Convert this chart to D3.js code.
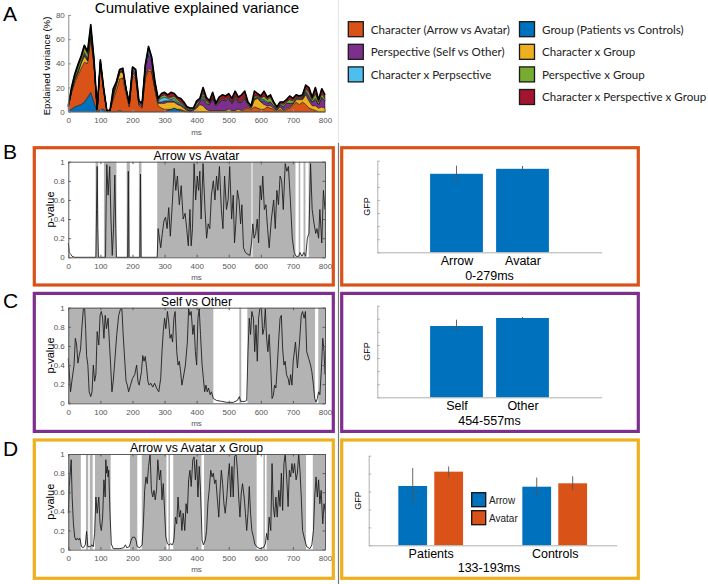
<!DOCTYPE html>
<html><head><meta charset="utf-8">
<script src="https://cdn.jsdelivr.net/npm/d3@7"></script>
<style>body{margin:0;background:#fff}svg{display:block}</style>
</head><body><svg id="c" width="708" height="584"></svg>
<script>
// ---------------- DATA ----------------
const timesA = d3.range(0, 801, 10); // sample grid (ms)
const groupVar = [1,2,4,5,6,8,12,16,8,0, 2,2,0,0,0,0,1,0,0,0, 0,0,0,0,0,0,0,0,0,0, 0,1,2,3,2,1,0,0,0,0, 0,0,0,0,0,0,0,0,0,0, 0,0,0,0,0,0,0,0,0,0, 0,0,0,0,0,0,0,0,0,0, 0,0,0,0,0,0,0,0,0,0, 0];
const characterVar = [3,14,20,25,30,33,28,45,30,2, 38,15,1,1,10,18,26,28,15,4, 30,28,5,3,28,34,33,18,5,3, 2,1,0,0,0,1,1,0,0,0, 0,0,0,0,0,0,0,0,0,0, 0,0,0,0,0,2,3,2,4,3, 2,2,4,3,2,0,2,0,2,3, 5,8,6,8,6,3,2,1,0,0, 0];
const charGroupVar = [0,1,2,2,4,5,2,3,2,0, 1,1,0,0,2,4,5,5,3,2, 2,1,1,1,2,2,1,1,2,4, 5,6,6,5,4,3,2,1,0,1, 3,6,5,2,1,1,1,1,1,1, 2,1,1,2,1,1,1,1,6,8, 6,4,1,2,1,1,2,1,1,1, 1,2,4,2,8,6,3,4,3,4, 3];
const perspectiveVar = [0,0,1,1,1,2,1,1,1,0, 0,1,0,0,3,1,1,1,1,1, 2,3,2,2,5,12,7,3,1,1, 2,1,1,1,1,1,1,1,1,1, 2,2,6,4,5,10,4,7,9,8, 9,6,10,6,7,8,2,1,1,1, 1,3,2,3,2,1,2,3,4,3, 1,1,1,1,2,3,3,5,3,8, 6];
const charPerspVar = [0,0,0,1,0,1,1,1,0,0, 0,0,0,0,0,0,0,0,0,0, 1,1,0,0,2,4,2,1,1,3, 3,2,1,2,1,1,1,0,0,0, 0,0,2,1,0,0,0,0,0,0, 0,0,1,0,0,0,0,0,0,0, 1,1,1,0,0,0,0,0,0,0, 0,0,0,0,1,1,0,1,0,0, 0];
const perspGroupVar = [1,2,2,3,3,4,4,4,2,0, 1,1,0,0,1,1,1,1,0,0, 1,1,1,1,1,1,1,1,1,2, 2,1,2,2,2,1,1,1,1,1, 2,1,3,2,1,1,1,1,1,1, 1,1,1,1,1,1,1,1,2,1, 1,3,2,4,2,1,1,2,1,3, 2,1,1,1,2,3,2,4,2,3, 2];
const charPerspGroupVar = [0,1,2,2,2,2,2,2,1,0, 1,0,0,0,3,1,1,1,0,0, 1,1,0,0,1,1,1,1,1,2, 2,2,4,2,2,3,2,1,1,0, 2,2,4,3,2,4,1,3,3,3, 3,3,4,3,5,5,1,0,4,2, 2,4,2,2,1,1,1,2,2,3, 2,2,1,2,3,4,2,5,2,4, 3];

const legendLabels = ["Character (Arrow vs Avatar)","Perspective (Self vs Other)","Character x Perpsective",
  "Group (Patients vs Controls)","Character x Group","Perspective x Group","Character x Perspective x Group"];
const legendColors = ["#D95319","#7E2F8E","#4DBEEE","#0072BD","#EDB120","#77AC30","#A2142F"];

const xTicksMs = [0,100,200,300,400,500,600,700,800];
const yTicksA = [0,20,40,60,80];
const yTicksP = [0,0.2,0.4,0.6,0.8,1];

// p-value curves [ms, p]
const pArrowAvatar = [[0,0.15],[3,0.05],[8,0.03],[12,0.01],[20,0],[86,0],[88,0.5],[90,0.95],[92,0.3],[94,0],[116,0],[118,0.6],[120,0.97],[124,0.65],[129,0.95],[133,0.4],[137,0.02],[141,0.3],[145,0.86],[148,0.3],[150,0],[185,0],[187,0.9],[189,0],[223,0],[225,0.87],[227,0],[277,0],[280,0.3],[284,0.2],[288,0.1],[293,0.25],[298,0.38],[303,0.42],[308,0.3],[313,0.52],[318,0.22],[324,0.55],[330,0.93],[335,0.7],[340,0.85],[346,0.55],[352,0.75],[358,0.4],[364,0.46],[369,0.3],[374,0.12],[379,0.5],[383,0.12],[387,0.3],[392,0.98],[397,0.6],[402,0.85],[406,0.7],[410,0.9],[414,0.4],[420,0.98],[426,0.5],[431,0.2],[436,0.35],[441,0.3],[446,0.65],[452,0.8],[457,0.6],[462,0.85],[466,0.7],[471,0.95],[477,0.5],[482,0.3],[487,0.85],[493,0.5],[498,0.6],[503,0.95],[509,0.4],[514,0.65],[518,0.15],[522,0.35],[527,0.7],[532,0.6],[537,0.35],[541,0.55],[546,0.1],[552,0.05],[560,0.03],[566,0.02],[571,0.15],[575,0.35],[579,0.2],[584,0.25],[589,0.4],[593,0.15],[598,0.75],[602,0.6],[606,0.85],[611,0.5],[616,0.55],[621,0.3],[626,0.1],[633,0.4],[640,0.6],[645,0.3],[650,0.7],[655,0.55],[660,0.85],[665,0.8],[670,0.5],[676,0.98],[681,0.9],[686,0.95],[692,0.6],[698,0.2],[704,0.05],[710,0.01],[718,0.01],[722,0.05],[728,0.01],[734,0.05],[740,0.01],[745,0.2],[750,0.25],[755,0.98],[760,0.5],[766,0.35],[771,0.25],[775,0.3],[780,0.2],[784,0.5],[790,0.15],[795,0.7],[800,0.5]];
const grayArrowAvatar = [[85,93],[111,150],[182,192],[220,228],[277,571],[574,708],[718,723],[733,739],[749,800]];

const pSelfOther = [[0,0.47],[3,0.33],[7,0.12],[11,0.23],[18,0.4],[22,0.68],[26,0.61],[30,0.42],[34,0.5],[38,0.56],[43,0.82],[47,0.99],[51,0.99],[54,0.78],[57,0.5],[61,0.4],[65,0.12],[70,0.07],[74,0.12],[78,0.4],[82,0.23],[86,0.3],[90,0.75],[95,0.61],[99,0.92],[103,0.96],[107,0.89],[111,0.68],[115,0.92],[119,0.78],[124,0.89],[128,0.64],[132,0.4],[136,0.12],[140,0.23],[144,0.4],[151,0.72],[157,0.92],[163,0.99],[167,0.99],[171,0.72],[176,0.44],[180,0.23],[184,0.19],[188,0.12],[194,0.19],[200,0.26],[207,0.3],[213,0.4],[217,0.23],[221,0.19],[228,0.33],[232,0.5],[236,0.44],[240,0.49],[244,0.37],[248,0.23],[252,0.19],[257,0.21],[263,0.17],[269,0.21],[275,0.16],[282,0.12],[288,0.26],[292,0.54],[296,0.75],[300,0.89],[304,0.78],[309,0.96],[313,0.85],[317,0.68],[321,0.72],[325,0.64],[329,0.89],[333,0.96],[338,0.54],[342,0.4],[346,0.44],[350,0.33],[354,0.19],[358,0.26],[365,0.4],[371,0.64],[375,0.99],[379,0.92],[383,0.96],[388,0.72],[392,0.82],[396,0.54],[400,0.4],[404,0.89],[408,0.99],[412,0.72],[417,0.4],[421,0.26],[425,0.12],[429,0.19],[433,0.12],[437,0.16],[442,0.09],[446,0.12],[452,0.05],[462,0.03],[478,0.02],[494,0.01],[514,0.01],[527,0.03],[533,0.07],[537,0.02],[551,0.02],[556,0.03],[560,0.54],[564,0.89],[568,0.72],[572,0.96],[577,0.89],[581,0.54],[585,0.82],[589,0.44],[593,0.89],[597,0.99],[602,0.99],[606,0.72],[610,0.78],[614,0.99],[618,0.68],[622,0.54],[626,0.72],[631,0.37],[635,0.05],[639,0.08],[643,0.19],[647,0.16],[651,0.37],[656,0.68],[660,0.89],[664,0.92],[668,0.57],[672,0.4],[676,0.44],[680,0.3],[685,0.26],[689,0.19],[693,0.3],[697,0.19],[701,0.44],[708,0.64],[714,0.37],[720,0.61],[726,0.92],[730,0.96],[735,0.89],[739,0.96],[743,0.54],[749,0.47],[755,0.4],[759,0.33],[764,0.19],[768,0.05],[772,0.01],[776,0.05],[780,0.12],[784,0.09],[789,0.37],[793,0.68],[797,0.54],[800,0.3]];
const graySelfOther = [[0,452],[533,539],[558,769],[779,800]];

const pArrowAvatarGroup = [[0,0.38],[3,0.66],[6,0.8],[9,0.94],[12,0.55],[16,0.27],[20,0.13],[24,0.1],[28,0.12],[32,0.1],[36,0.12],[41,0.03],[47,0.02],[53,0.05],[57,0.19],[61,0.03],[68,0.03],[74,0.05],[78,0.03],[82,0.17],[86,0.55],[90,0.38],[95,0.55],[99,0.27],[103,0.2],[107,0.34],[111,0.73],[115,0.55],[117,0.94],[119,0.8],[122,0.87],[124,0.76],[126,0.83],[130,0.38],[134,0.06],[140,0.01],[161,0.01],[173,0.02],[178,0.05],[182,0.02],[190,0.03],[196,0.1],[200,0.13],[207,0.13],[211,0.1],[215,0.03],[223,0.02],[230,0.05],[234,0.27],[238,0.62],[242,0.76],[246,0.69],[250,0.87],[255,1.0],[259,0.62],[263,0.55],[267,0.62],[271,0.52],[275,0.62],[279,0.94],[284,0.73],[288,0.83],[292,0.52],[296,0.69],[300,0.41],[304,0.13],[309,0.06],[313,0.05],[319,0.06],[325,0.05],[329,0.1],[334,0.34],[338,0.27],[342,0.55],[346,0.34],[350,0.41],[354,0.2],[358,0.38],[363,0.2],[367,0.48],[371,0.38],[375,0.73],[379,0.83],[383,0.66],[388,0.94],[392,0.97],[396,0.73],[400,0.94],[404,0.55],[408,0.87],[412,0.62],[417,0.1],[421,0.05],[427,0.1],[431,0.2],[435,0.48],[439,0.62],[444,0.83],[448,0.76],[452,0.8],[456,0.69],[460,0.73],[464,0.55],[469,0.34],[473,0.62],[477,0.83],[481,0.69],[485,0.48],[489,0.38],[494,0.55],[498,0.76],[502,0.9],[506,0.55],[510,0.87],[514,0.55],[518,0.97],[523,1.0],[527,0.83],[531,0.55],[535,0.34],[539,0.59],[543,0.69],[548,0.55],[552,0.38],[556,0.2],[560,0.38],[564,0.66],[568,0.38],[572,0.2],[577,0.13],[581,0.06],[587,0.03],[597,0.01],[608,0.02],[614,0.06],[618,0.17],[622,0.1],[626,0.34],[631,0.2],[635,0.9],[639,0.45],[643,0.34],[647,0.55],[651,0.34],[656,0.62],[660,0.45],[664,0.8],[668,0.41],[672,0.9],[676,1.0],[681,0.73],[685,0.45],[689,0.83],[693,0.76],[697,0.9],[701,0.8],[705,0.9],[710,0.73],[714,0.8],[718,1.0],[722,0.83],[726,0.55],[730,0.2],[737,0.1],[743,0.03],[753,0.01],[759,0.05],[764,0.2],[768,0.55],[772,0.76],[776,0.55],[780,0.73],[784,0.48],[788,0.62],[793,0.27],[797,0.48],[800,0.41]];
const grayArrowAvatarGroup = [[0,39],[55,62],[67,76],[83,132],[192,215],[229,306],[312,317],[327,415],[423,587],[608,613],[618,741],[762,800]];

// bar data (GFP)
const catsB = ["Arrow","Avatar"], gfpB = [6.0,6.38], errB = [0.62,0.22];
const catsC = ["Self","Other"], gfpC = [5.45,6.06], errC = [0.48,0.07];
const groupsD = ["Patients","Controls"];
const gfpDArrow = [3.31,3.27], errDArrow = [1.0,0.51];
const gfpDAvatar = [4.11,3.46], errDAvatar = [0.29,0.39];
const legendD = ["Arrow","Avatar"];

// ---------------- DRAW ----------------
const AR = '"Liberation Sans", Arial, Helvetica, sans-serif';
const svg = d3.select("#c");
const BLUE = "#0072BD", ORANGE = "#D95319", PURPLE = "#7E2F8E", YELLOW = "#EDB120";

// divider
svg.append("line").attr("x1",338.5).attr("x2",338.5).attr("y1",0).attr("y2",143).attr("stroke","#e6e6e6").attr("stroke-width",1);
svg.append("line").attr("x1",338.5).attr("x2",338.5).attr("y1",143).attr("y2",584).attr("stroke","#777").attr("stroke-width",1.2);

// panel letters
[["A",21],["B",159],["C",308],["D",456]].forEach(([l,y])=>{
  svg.append("text").attr("x",3).attr("y",y).text(l).attr("font-family",AR).attr("font-size",21).attr("fill","#000");
});

function styleAxis(g, lineColor, textColor, fs){
  g.select(".domain").attr("stroke",lineColor);
  g.selectAll(".tick line").attr("stroke",lineColor);
  g.selectAll("text").attr("fill",textColor).attr("font-family",AR).attr("font-size",fs);
}

// ---- Panel A ----
(function(){
  const x = d3.scaleLinear().domain([0,800]).range([68.3,325]);
  const y = d3.scaleLinear().domain([0,80]).range([111.7,15]);
  const keys = ["group","character","charGroup","perspective","charPersp","perspGroup","charPerspGroup"];
  const src = {group:groupVar,character:characterVar,charGroup:charGroupVar,perspective:perspectiveVar,charPersp:charPerspVar,perspGroup:perspGroupVar,charPerspGroup:charPerspGroupVar};
  const col = {group:BLUE,character:ORANGE,charGroup:YELLOW,perspective:PURPLE,charPersp:"#4DBEEE",perspGroup:"#77AC30",charPerspGroup:"#A2142F"};
  const rows = timesA.map((t,i)=>{const r={t}; keys.forEach(k=>r[k]=src[k][i]); return r;});
  const series = d3.stack().keys(keys)(rows);
  const area = d3.area().x(d=>x(d.data.t)).y0(d=>y(d[0])).y1(d=>y(d[1]));
  const g = svg.append("g");
  g.selectAll("path.a").data(series).join("path").attr("d",area).attr("fill",d=>col[d.key])
    .attr("stroke","#111").attr("stroke-width",0.5).attr("stroke-linejoin","round");
  const top = series[series.length-1];
  g.append("path").attr("d",d3.line().x(d=>x(d.data.t)).y(d=>y(d[1]))(top)).attr("fill","none").attr("stroke","#000").attr("stroke-width",1.6).attr("stroke-linejoin","round");
  const ax = svg.append("g").attr("transform","translate(0,111.7)").call(d3.axisBottom(x).tickValues(xTicksMs).tickSize(-2.5).tickPadding(6).tickSizeOuter(0));
  styleAxis(ax,"#8c8c8c","#555",8);
  const ay = svg.append("g").attr("transform","translate(68.3,0)").call(d3.axisLeft(y).tickValues(yTicksA).tickSize(-2.5).tickPadding(3.5).tickSizeOuter(0));
  styleAxis(ay,"#8c8c8c","#555",8);
  svg.append("text").attr("x",197).attr("y",13).attr("text-anchor","middle").attr("font-family",AR).attr("font-size",15).text("Cumulative explained variance");
  svg.append("text").attr("transform","translate(49.5,66) rotate(-90)").attr("text-anchor","middle").attr("font-family",AR).attr("font-size",9.6).text("Epxlained variance (%)");
  svg.append("text").attr("x",196.5).attr("y",134.5).attr("text-anchor","middle").attr("font-family",AR).attr("font-size",8).attr("fill","#555").text("ms");
})();

// ---- Legend ----
(function(){
  const colX = [348.3,519.5];
  legendLabels.forEach((lab,i)=>{
    const c = i<3?0:1, r = i<3?i:i-3;
    const bx = colX[c], by = 21.7 + r*22.6;
    svg.append("rect").attr("x",bx).attr("y",by).attr("width",15).attr("height",15).attr("fill",legendColors[i]).attr("stroke","#1a1a1a").attr("stroke-width",1.3);
    svg.append("text").attr("x",bx+22.5).attr("y",by+11.8).attr("font-family","Lato, 'Open Sans', sans-serif").attr("font-size",11.6).attr("fill","#222").text(lab);
  });
})();

// ---- p-value panels ----
function pPanel(data, gray, top, title){
  const bottom = top + 95.6;
  const x = d3.scaleLinear().domain([0,800]).range([68.3,325]);
  const y = d3.scaleLinear().domain([0,1]).range([bottom,top]);
  const g = svg.append("g");
  g.selectAll("rect.s").data(gray).join("rect").attr("x",d=>x(d[0])).attr("width",d=>x(d[1])-x(d[0]))
    .attr("y",top).attr("height",bottom-top).attr("fill","#b3b3b3");
  g.append("path").attr("d",d3.line().x(d=>x(d[0])).y(d=>y(d[1]))(data)).attr("fill","none").attr("stroke","#1e1e1e").attr("stroke-width",0.9).attr("stroke-linejoin","round");
  const ax = svg.append("g").attr("transform",`translate(0,${bottom})`).call(d3.axisBottom(x).tickValues(xTicksMs).tickSize(-2.5).tickPadding(6).tickSizeOuter(0));
  styleAxis(ax,"#595959","#555",8);
  const axT = svg.append("g").attr("transform",`translate(0,${top})`).call(d3.axisTop(x).tickValues(xTicksMs).tickSize(-2.5).tickFormat("").tickSizeOuter(0));
  styleAxis(axT,"#595959","#555",8);
  const ay = svg.append("g").attr("transform","translate(68.3,0)").call(d3.axisLeft(y).tickValues(yTicksP).tickSize(-2.5).tickPadding(3.5).tickSizeOuter(0).tickFormat(d3.format("~g")));
  styleAxis(ay,"#595959","#555",8);
  const ayR = svg.append("g").attr("transform","translate(325,0)").call(d3.axisRight(y).tickValues(yTicksP).tickSize(-2.5).tickFormat("").tickSizeOuter(0));
  styleAxis(ayR,"#595959","#555",8);
  svg.append("text").attr("x",196.5).attr("y",top-2).attr("text-anchor","middle").attr("font-family",AR).attr("font-size",12.3).text(title);
  svg.append("text").attr("transform",`translate(54,${(top+bottom)/2}) rotate(-90)`).attr("text-anchor","middle").attr("font-family",AR).attr("font-size",11).text("p-value");
  svg.append("text").attr("x",196.5).attr("y",bottom+22.5).attr("text-anchor","middle").attr("font-family",AR).attr("font-size",8).attr("fill","#555").text("ms");
}
pPanel(pArrowAvatar, grayArrowAvatar, 161.7, "Arrow vs Avatar");
pPanel(pSelfOther, graySelfOther, 307.7, "Self vs Other");
pPanel(pArrowAvatarGroup, grayArrowAvatarGroup, 454, "Arrow vs Avatar x Group");

// ---- bar panels B & C ----
function barPanel(cats, vals, errs, top, label){
  const bottom = top + 91.6;
  const x = d3.scaleLinear().domain([-0.2,3.2]).range([377.3,601.7]);
  const y = d3.scaleLinear().domain([0,7]).range([bottom,top]);
  const g = svg.append("g");
  g.selectAll("rect").data(vals).join("rect").attr("x",(d,i)=>x(i+1-0.4)).attr("width",x(0.8)-x(0))
    .attr("y",d=>y(d)).attr("height",d=>bottom-y(d)).attr("fill",BLUE);
  g.selectAll("line.e").data(vals).join("line").attr("x1",(d,i)=>x(i+1)).attr("x2",(d,i)=>x(i+1))
    .attr("y1",(d,i)=>y(d+errs[i])).attr("y2",(d,i)=>y(d-errs[i])).attr("stroke","#555").attr("stroke-width",0.9);
  const ay = svg.append("g").attr("transform","translate(377.3,0)").call(d3.axisLeft(y).tickValues(d3.range(0,8)).tickSize(-2.5).tickFormat("").tickSizeOuter(0));
  styleAxis(ay,"#b0b0b0","#000",10);
  const ax = svg.append("g").attr("transform",`translate(0,${bottom})`).call(d3.axisBottom(x).tickValues([1,2]).tickFormat((d,i)=>cats[i]).tickSize(0).tickPadding(4).tickSizeOuter(0));
  styleAxis(ax,"#b0b0b0","#000",12.5);
  svg.append("text").attr("x",489.5).attr("y",bottom+28).attr("text-anchor","middle").attr("font-family",AR).attr("font-size",12.5).text(label);
  svg.append("text").attr("transform",`translate(369.5,${(top+bottom)/2}) rotate(-90)`).attr("text-anchor","middle").attr("font-family",AR).attr("font-size",9).text("GFP");
}
barPanel(catsB, gfpB, errB, 160.7, "0-279ms");
barPanel(catsC, gfpC, errC, 305.7, "454-557ms");

// ---- bar panel D ----
(function(){
  const top = 455.7, bottom = 545.3;
  const x = d3.scaleLinear().domain([0.5,2.5]).range([368.7,616.7]);
  const y = d3.scaleLinear().domain([0,5]).range([bottom,top]);
  const bw = 0.232, off = 0.145;
  const sets = [[gfpDArrow,errDArrow,BLUE,-off],[gfpDAvatar,errDAvatar,ORANGE,off]];
  sets.forEach(([vals,errs,c,o])=>{
    svg.append("g").selectAll("rect").data(vals).join("rect").attr("x",(d,i)=>x(i+1+o-bw/2)).attr("width",x(bw)-x(0))
      .attr("y",d=>y(d)).attr("height",d=>bottom-y(d)).attr("fill",c);
    svg.append("g").selectAll("line").data(vals).join("line").attr("x1",(d,i)=>x(i+1+o)).attr("x2",(d,i)=>x(i+1+o))
      .attr("y1",(d,i)=>y(d+errs[i])).attr("y2",(d,i)=>y(d-errs[i])).attr("stroke","#555").attr("stroke-width",0.9);
  });
  const ay = svg.append("g").attr("transform","translate(368.7,0)").call(d3.axisLeft(y).tickValues(d3.range(0,6)).tickSize(-2.5).tickFormat("").tickSizeOuter(0));
  styleAxis(ay,"#b0b0b0","#000",10);
  const ax = svg.append("g").attr("transform",`translate(0,${bottom})`).call(d3.axisBottom(x).tickValues([1,2]).tickFormat((d,i)=>groupsD[i]).tickSize(0).tickPadding(4).tickSizeOuter(0));
  styleAxis(ax,"#b0b0b0","#000",12.5);
  svg.append("text").attr("x",489).attr("y",bottom+26.5).attr("text-anchor","middle").attr("font-family",AR).attr("font-size",12.5).text("133-193ms");
  svg.append("text").attr("transform",`translate(361,${(top+bottom)/2}) rotate(-90)`).attr("text-anchor","middle").attr("font-family",AR).attr("font-size",9).text("GFP");
  [BLUE,ORANGE].forEach((c,i)=>{
    const by = 492.7 + i*18;
    svg.append("rect").attr("x",471.7).attr("y",by).attr("width",14).attr("height",14).attr("fill",c).attr("stroke","#111").attr("stroke-width",1.3);
    svg.append("text").attr("x",489).attr("y",by+10.8).attr("font-family",AR).attr("font-size",10).attr("fill","#222").text(legendD[i]);
  });
})();

// ---- frames ----
const frames = [[34.3,147.7,299,137.3,ORANGE],[341.7,147.7,296.6,137.3,ORANGE],
  [34.3,293.4,299,138,PURPLE],[341.7,293.4,296.6,138,PURPLE],
  [34.3,440,299,138.3,YELLOW],[341.7,440,296.6,138.3,YELLOW]];
frames.forEach(([fx,fy,fw,fh,c])=>{
  svg.append("rect").attr("x",fx).attr("y",fy).attr("width",fw).attr("height",fh).attr("fill","none").attr("stroke",c).attr("stroke-width",3.2);
});
</script></body></html>
